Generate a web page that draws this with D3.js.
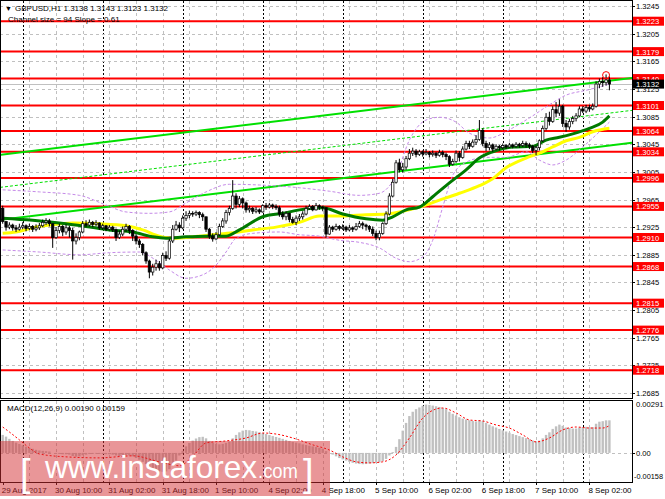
<!DOCTYPE html>
<html>
<head>
<meta charset="utf-8">
<script src="https://cdn.jsdelivr.net/npm/d3@7"></script>
<style>
  body { margin: 0; background: #fff; }
  svg { display: block; font-family: "Liberation Sans", Arial, sans-serif; }
</style>
</head>
<body>
<script>
// GBPUSD H1, 29 Aug 18:00 .. 8 Sep 08:00 (2017), one entry per hourly bar

var firstOpen = 1.2952;

var closes = [
  1.2933,1.2925,1.2928,1.2924,1.2922,1.2925,1.2927,1.2923,1.2926,1.2922,
  1.2924,1.2927,1.2932,1.2934,1.2930,1.2910,1.2920,1.2926,1.2918,1.2924,
  1.2920,1.2905,1.2910,1.2918,1.2930,1.2928,1.2932,1.2929,1.2931,1.2924,
  1.2927,1.2922,1.2925,1.2921,1.2910,1.2915,1.2922,1.2926,1.2920,1.2912,
  1.2905,1.2900,1.2888,1.2876,1.2860,1.2867,1.2872,1.2866,1.2884,1.2880,
  1.2905,1.2922,1.2928,1.2924,1.2938,1.2942,1.2945,1.2944,1.2946,1.2943,
  1.2940,1.2922,1.2912,1.2908,1.2914,1.2926,1.2934,1.2946,1.2952,1.2970,
  1.2958,1.2966,1.2960,1.2950,1.2952,1.2948,1.2950,1.2947,1.2956,1.2954,
  1.2957,1.2955,1.2953,1.2944,1.2940,1.2945,1.2936,1.2932,1.2938,1.2940,
  1.2944,1.2952,1.2955,1.2950,1.2956,1.2954,1.2953,1.2915,1.2925,1.2922,
  1.2926,1.2923,1.2925,1.2921,1.2924,1.2922,1.2926,1.2930,1.2928,1.2926,
  1.2922,1.2916,1.2910,1.2916,1.2930,1.2944,1.2970,1.2990,1.3018,1.3008,
  1.3012,1.3024,1.3032,1.3035,1.3030,1.3034,1.3031,1.3033,1.3030,1.3032,
  1.3029,1.3033,1.3030,1.3027,1.3016,1.3020,1.3032,1.3026,1.3038,1.3046,
  1.3042,1.3048,1.3052,1.3065,1.3046,1.3040,1.3044,1.3038,1.3042,1.3040,
  1.3043,1.3041,1.3044,1.3042,1.3045,1.3043,1.3046,1.3044,1.3042,1.3036,
  1.3040,1.3050,1.3068,1.3084,1.3078,1.3095,1.3090,1.3100,1.3075,1.3070,
  1.3078,1.3082,1.3086,1.3096,1.3093,1.3098,1.3096,1.3100,1.3132,1.3136,
  1.3134,1.3138,1.3132
];

var highs = [
  1.2956,1.2934,1.2932,1.2930,1.2928,1.2930,1.2932,1.2929,1.2930,1.2928,
  1.2929,1.2931,1.2936,1.2938,1.2937,1.2930,1.2925,1.2930,1.2928,1.2929,
  1.2927,1.2924,1.2916,1.2920,1.2934,1.2935,1.2936,1.2934,1.2935,1.2932,
  1.2930,1.2928,1.2928,1.2927,1.2923,1.2920,1.2926,1.2930,1.2928,1.2922,
  1.2915,1.2908,1.2902,1.2890,1.2878,1.2872,1.2878,1.2876,1.2888,1.2890,
  1.2908,1.2928,1.2934,1.2932,1.2942,1.2948,1.2949,1.2948,1.2949,1.2948,
  1.2946,1.2940,1.2924,1.2916,1.2918,1.2930,1.2938,1.2950,1.2956,1.2993,
  1.2974,1.2970,1.2968,1.2962,1.2956,1.2954,1.2954,1.2952,1.2958,1.2960,
  1.2960,1.2959,1.2958,1.2956,1.2948,1.2948,1.2946,1.2940,1.2942,1.2944,
  1.2948,1.2956,1.2958,1.2957,1.2960,1.2958,1.2956,1.2954,1.2928,1.2927,
  1.2930,1.2928,1.2929,1.2927,1.2928,1.2926,1.2931,1.2934,1.2933,1.2930,
  1.2928,1.2926,1.2920,1.2920,1.2932,1.2948,1.2974,1.2995,1.3022,1.3024,
  1.3018,1.3028,1.3038,1.3040,1.3038,1.3037,1.3036,1.3038,1.3035,1.3036,
  1.3034,1.3037,1.3036,1.3033,1.3029,1.3024,1.3036,1.3035,1.3042,1.3050,
  1.3050,1.3052,1.3058,1.3080,1.3068,1.3050,1.3048,1.3046,1.3045,1.3044,
  1.3046,1.3045,1.3047,1.3046,1.3048,1.3047,1.3050,1.3049,1.3047,1.3044,
  1.3043,1.3052,1.3072,1.3090,1.3092,1.3100,1.3106,1.3110,1.3102,1.3080,
  1.3082,1.3086,1.3090,1.3100,1.3100,1.3102,1.3102,1.3104,1.3136,1.3140,
  1.3142,1.3146,1.3143
];

var lows = [
  1.2930,1.2920,1.2922,1.2920,1.2918,1.2920,1.2922,1.2919,1.2921,1.2918,
  1.2919,1.2921,1.2925,1.2928,1.2926,1.2895,1.2908,1.2916,1.2912,1.2914,
  1.2910,1.2878,1.2900,1.2906,1.2916,1.2925,1.2926,1.2925,1.2926,1.2921,
  1.2921,1.2919,1.2920,1.2918,1.2905,1.2908,1.2912,1.2918,1.2915,1.2905,
  1.2900,1.2895,1.2884,1.2872,1.2851,1.2855,1.2862,1.2862,1.2864,1.2876,
  1.2878,1.2902,1.2920,1.2918,1.2922,1.2934,1.2938,1.2940,1.2941,1.2938,
  1.2934,1.2918,1.2908,1.2904,1.2906,1.2912,1.2924,1.2930,1.2942,1.2950,
  1.2952,1.2954,1.2952,1.2946,1.2946,1.2944,1.2945,1.2944,1.2946,1.2950,
  1.2952,1.2951,1.2950,1.2940,1.2936,1.2935,1.2932,1.2930,1.2928,1.2934,
  1.2936,1.2942,1.2950,1.2948,1.2949,1.2950,1.2948,1.2910,1.2914,1.2918,
  1.2920,1.2920,1.2921,1.2918,1.2919,1.2918,1.2920,1.2924,1.2922,1.2920,
  1.2918,1.2912,1.2906,1.2906,1.2914,1.2928,1.2942,1.2968,1.2988,1.3004,
  1.3004,1.3008,1.3022,1.3028,1.3026,1.3028,1.3027,1.3029,1.3026,1.3027,
  1.3025,1.3027,1.3026,1.3022,1.3012,1.3014,1.3018,1.3020,1.3024,1.3036,
  1.3038,1.3040,1.3044,1.3050,1.3042,1.3035,1.3036,1.3034,1.3036,1.3036,
  1.3038,1.3038,1.3040,1.3039,1.3040,1.3040,1.3041,1.3040,1.3038,1.3032,
  1.3029,1.3036,1.3048,1.3065,1.3072,1.3076,1.3084,1.3086,1.3070,1.3063,
  1.3066,1.3074,1.3078,1.3084,1.3090,1.3090,1.3092,1.3094,1.3098,1.3126,
  1.3128,1.3130,1.3123
];

// MACD(12,26,9) main histogram, in units of 0.00001
var macdHist = [
  105,95,82,70,60,52,44,36,30,24,
  18,14,12,10,8,0,-4,-6,-8,-8,
  -10,-18,-22,-20,-14,-10,-6,-5,-4,-6,
  -6,-8,-8,-10,-15,-18,-16,-14,-15,-20,
  -30,-40,-52,-65,-80,-92,-102,-108,-110,-108,
  -95,-72,-45,-15,12,38,58,72,84,92,
  94,85,70,60,53,50,52,58,66,85,
  105,120,130,134,132,128,125,120,115,110,
  104,98,93,88,82,76,70,64,60,56,
  50,46,42,38,34,30,25,10,0,-10,
  -20,-30,-38,-45,-52,-58,-62,-65,-66,-65,
  -62,-60,-58,-55,-48,-35,-15,5,35,80,
  130,175,215,240,255,265,275,282,280,276,
  272,268,262,255,240,228,218,208,200,195,
  190,186,184,190,185,175,165,155,148,140,
  132,125,118,110,104,98,92,86,80,72,
  68,72,85,105,120,140,155,165,158,148,
  145,142,142,148,150,152,150,150,170,182,
  185,190,190
];

// MACD signal line read at [bar, value in 0.00001]
var macdSignal = [
  [0,151],[2,122],[5,76],[8,29],[11,-6],[19,-23],[29,-29],[39,-17],[47,-52],
  [53,-75],[57,-20],[61,58],[67,70],[73,87],[78,116],[82,110],[87,87],[93,47],
  [98,17],[102,-23],[106,-52],[110,-58],[114,-52],[118,-12],[122,87],[126,203],
  [130,256],[132,262],[136,233],[140,192],[144,186],[148,163],[152,145],[156,105],
  [160,64],[164,87],[168,134],[172,151],[176,145],[180,145],[182,159]
];

// moving averages read at [bar, price]
var maGreen = [
  [0,1.2938],[9,1.2935],[19,1.2930],[25,1.2926],[32,1.2921],[39,1.2918],[45,1.2911],
  [49,1.2909],[55,1.2911],[61,1.2912],[67,1.2912],[71,1.2921],[78,1.2940],[84,1.2945],
  [89,1.2950],[96,1.2953],[102,1.2944],[109,1.2937],[114,1.2935],[117,1.2940],
  [121,1.2950],[125,1.2954],[129,1.2969],[134,1.2989],[139,1.3008],[143,1.3025],
  [147,1.3034],[153,1.3041],[159,1.3042],[163,1.3051],[167,1.3055],[171,1.3060],
  [176,1.3068],[180,1.3077],[182,1.3086]
];
var maYellow = [
  [0,1.2916],[4,1.2918],[9,1.2924],[14,1.2928],[21,1.2931],[29,1.2930],[37,1.2927],
  [42,1.2921],[47,1.2912],[51,1.2909],[57,1.2911],[63,1.2914],[69,1.2917],[75,1.2921],
  [82,1.2925],[89,1.2932],[95,1.2941],[102,1.2941],[109,1.2943],[115,1.2944],
  [119,1.2947],[125,1.2954],[131,1.2964],[137,1.2974],[143,1.2985],[147,1.2995],
  [151,1.3011],[157,1.3025],[161,1.3032],[165,1.3041],[169,1.3050],[173,1.3055],
  [177,1.3063],[182,1.3068]
];

// envelope (violet dotted) read at [bar, price]
var bandUpper = [
  [0,1.2979],[11,1.2976],[23,1.2971],[31,1.2957],[37,1.2947],[44,1.2945],[50,1.2947],
  [55,1.2960],[61,1.2976],[68,1.2987],[77,1.2986],[89,1.2982],[98,1.2977],[107,1.2971],
  [113,1.2974],[118,1.3000],[122,1.3051],[127,1.3080],[131,1.3084],[136,1.3077],
  [140,1.3061],[146,1.3054],[152,1.3066],[158,1.3083],[164,1.3102],[169,1.3116],
  [175,1.3123],[179,1.3128],[182,1.3132]
];
var bandLower = [
  [0,1.2892],[11,1.2889],[23,1.2885],[32,1.2888],[41,1.2889],[46,1.2877],[50,1.2863],
  [55,1.2851],[60,1.2856],[64,1.2870],[67,1.2889],[70,1.2909],[75,1.2916],[83,1.2918],
  [89,1.2914],[95,1.2912],[101,1.2906],[107,1.2903],[113,1.2895],[118,1.2880],
  [122,1.2875],[126,1.2882],[129,1.2906],[132,1.2954],[135,1.3000],[139,1.3019],
  [145,1.3026],[151,1.3026],[157,1.3034],[161,1.3022],[165,1.3015],[169,1.3022],
  [174,1.3041],[179,1.3063],[182,1.3077]
];

// regression channel: price at bar 0 and bar 182
var channelBars = [0, 182];
var channelUpper = [1.3030, 1.3137];
var channelMiddle = [1.2983, 1.3090];
var channelLower = [1.2936, 1.3043];

var levels = [1.3223, 1.3179, 1.3140, 1.3101, 1.3064, 1.3034, 1.2996, 1.2955,
              1.2910, 1.2868, 1.2815, 1.2776, 1.2718];

var priceTicks = [1.3245, 1.3205, 1.3165, 1.3125, 1.3085, 1.3045, 1.3005, 1.2965,
                  1.2925, 1.2885, 1.2845, 1.2805, 1.2765, 1.2725, 1.2685];
var macdTicks = [0.00291, 0.00, -0.00158];
var macdTickText = ["0.00291", "0.00", "-0.00158"];

var timeLabels = ["29 Aug 2017", "30 Aug 10:00", "31 Aug 02:00", "31 Aug 18:00",
                  "1 Sep 10:00", "4 Sep 02:00", "4 Sep 18:00", "5 Sep 10:00",
                  "6 Sep 02:00", "6 Sep 18:00", "7 Sep 10:00", "8 Sep 02:00"];
var timeLabelBars = [0, 16, 32, 48, 64, 80, 96, 112, 128, 144, 160, 176];
var daySepBars = [6, 30, 54, 78, 102, 126, 150, 174];
var gridBars = [8, 16, 24, 32, 40, 48, 56, 64, 72, 80, 88, 96, 104, 112, 120, 128,
                136, 144, 152, 160, 168, 176];

var alertBar = 181, alertPrice = 1.3145;

var W = 665, H = 499;
var plotR = 632;
var mainTop = 1, mainBot = 398, macdTop = 401, macdBot = 482;

var x = d3.scaleLinear().domain([0, 182]).range([2.7, 609.4]);
var y = d3.scaleLinear().domain([1.2685, 1.3245]).range([393, 6]);
var ym = d3.scaleLinear().domain([-0.00158, 0.00291]).range([480, 403]);

var svg = d3.select("body").append("svg")
    .attr("width", W)
    .attr("height", H);

var defs = svg.append("defs");
defs.append("clipPath").attr("id", "clipMain").append("rect")
    .attr("x", 1).attr("y", mainTop).attr("width", plotR - 1).attr("height", mainBot - mainTop);
defs.append("clipPath").attr("id", "clipMacd").append("rect")
    .attr("x", 1).attr("y", macdTop).attr("width", plotR - 1).attr("height", macdBot - macdTop);

var main = svg.append("g").attr("clip-path", "url(#clipMain)");
var macd = svg.append("g").attr("clip-path", "url(#clipMacd)");

// vertical grid in both panels
[[main, mainTop, mainBot], [macd, macdTop, macdBot]].forEach(function (p) {
    p[0].selectAll(".vgrid").data(gridBars).enter().append("line")
        .attr("x1", function (d) { return Math.round(x(d)) + 0.5; })
        .attr("x2", function (d) { return Math.round(x(d)) + 0.5; })
        .attr("y1", p[1]).attr("y2", p[2])
        .attr("stroke", "#c0c0c0").attr("stroke-dasharray", "3,3");
    p[0].selectAll(".dsep").data(daySepBars).enter().append("line")
        .attr("x1", function (d) { return Math.round(x(d)) + 0.5; })
        .attr("x2", function (d) { return Math.round(x(d)) + 0.5; })
        .attr("y1", p[1]).attr("y2", p[2])
        .attr("stroke", "#000").attr("stroke-dasharray", "2,2");
});

// horizontal grid
main.selectAll(".hgrid").data(priceTicks).enter().append("line")
    .attr("x1", 0).attr("x2", plotR)
    .attr("y1", function (d) { return Math.round(y(d)) + 0.5; })
    .attr("y2", function (d) { return Math.round(y(d)) + 0.5; })
    .attr("stroke", "#c0c0c0").attr("stroke-dasharray", "3,3");
macd.append("line")
    .attr("x1", 0).attr("x2", plotR)
    .attr("y1", Math.round(ym(0)) + 0.5).attr("y2", Math.round(ym(0)) + 0.5)
    .attr("stroke", "#c0c0c0").attr("stroke-dasharray", "3,3");

// support / resistance levels
main.selectAll(".level").data(levels).enter().append("line")
    .attr("x1", 0).attr("x2", plotR)
    .attr("y1", function (d) { return y(d); })
    .attr("y2", function (d) { return y(d); })
    .attr("stroke", "#ff0000").attr("stroke-width", 2);

// bid line
var lastClose = closes[closes.length - 1];
main.append("line")
    .attr("x1", 0).attr("x2", plotR)
    .attr("y1", Math.round(y(lastClose)) + 0.5).attr("y2", Math.round(y(lastClose)) + 0.5)
    .attr("stroke", "#c0c0c0");

// channel lines, extended across the whole panel
function chanLine(vals, dash, width) {
    var k = (vals[1] - vals[0]) / (channelBars[1] - channelBars[0]);
    var b0 = x.invert(0), b1 = x.invert(plotR);
    main.append("line")
        .attr("x1", 0).attr("x2", plotR)
        .attr("y1", y(vals[0] + k * (b0 - channelBars[0])))
        .attr("y2", y(vals[0] + k * (b1 - channelBars[0])))
        .attr("stroke", "#00e000")
        .attr("stroke-width", width)
        .attr("stroke-dasharray", dash);
}
chanLine(channelUpper, null, 2);
chanLine(channelMiddle, "3,2", 1);
chanLine(channelLower, null, 2);

var curve = d3.line()
    .x(function (d) { return x(d[0]); })
    .y(function (d) { return y(d[1]); })
    .curve(d3.curveMonotoneX);

[bandUpper, bandLower].forEach(function (b) {
    main.append("path").attr("d", curve(b))
        .attr("fill", "none").attr("stroke", "#c58ae8")
        .attr("stroke-width", 1).attr("stroke-dasharray", "3,2");
});

main.append("path").attr("d", curve(maYellow))
    .attr("fill", "none").attr("stroke", "#ffff00").attr("stroke-width", 3);
main.append("path").attr("d", curve(maGreen))
    .attr("fill", "none").attr("stroke", "#007a00").attr("stroke-width", 3);

// candles
var bars = closes.map(function (c, i) {
    var o = i === 0 ? firstOpen : closes[i - 1];
    return {
        i: i, o: o, c: c,
        h: Math.max(highs[i], o, c),
        l: Math.min(lows[i], o, c)
    };
});

var candle = main.selectAll(".candle").data(bars).enter().append("g");
candle.append("line")
    .attr("x1", function (d) { return x(d.i); })
    .attr("x2", function (d) { return x(d.i); })
    .attr("y1", function (d) { return y(d.h); })
    .attr("y2", function (d) { return y(d.l); })
    .attr("stroke", "#000").attr("stroke-width", 1);
candle.append("rect")
    .attr("x", function (d) { return x(d.i) - 1.2; })
    .attr("width", 2.4)
    .attr("y", function (d) { return y(Math.max(d.o, d.c)); })
    .attr("height", function (d) { return Math.max(0.8, Math.abs(y(d.o) - y(d.c))); })
    .attr("fill", function (d) { return d.c >= d.o ? "#fff" : "#000"; })
    .attr("stroke", "#000").attr("stroke-width", 0.7);

main.append("circle")
    .attr("cx", x(alertBar)).attr("cy", y(alertPrice)).attr("r", 3.5)
    .attr("fill", "none").attr("stroke", "#ff0000");

// MACD
macd.selectAll(".hist").data(macdHist).enter().append("rect")
    .attr("x", function (d, i) { return x(i) - 1.2; })
    .attr("width", 2.4)
    .attr("y", function (d) { return Math.min(ym(d / 1e5), ym(0)); })
    .attr("height", function (d) { return Math.abs(ym(d / 1e5) - ym(0)); })
    .attr("fill", "#c0c0c0");

macd.append("path")
    .attr("d", d3.line()
        .x(function (d) { return x(d[0]); })
        .y(function (d) { return ym(d[1] / 1e5); })
        .curve(d3.curveMonotoneX)(macdSignal))
    .attr("fill", "none").attr("stroke", "#ff0000")
    .attr("stroke-width", 1).attr("stroke-dasharray", "2,2");

// panel frames
svg.append("rect").attr("x", 0.5).attr("y", 0.5)
    .attr("width", plotR).attr("height", mainBot)
    .attr("fill", "none").attr("stroke", "#000");
svg.append("rect").attr("x", 0.5).attr("y", macdTop - 0.5)
    .attr("width", plotR).attr("height", macdBot - macdTop + 1)
    .attr("fill", "none").attr("stroke", "#000");

// right price axis
var axisX = plotR + 4;
svg.selectAll(".ptick").data(priceTicks).enter().append("line")
    .attr("x1", plotR).attr("x2", plotR + 3)
    .attr("y1", function (d) { return Math.round(y(d)) + 0.5; })
    .attr("y2", function (d) { return Math.round(y(d)) + 0.5; })
    .attr("stroke", "#000");
svg.selectAll(".plabel").data(priceTicks).enter().append("text")
    .attr("x", axisX).attr("y", function (d) { return y(d) + 3; })
    .attr("font-size", 7.6).attr("fill", "#000")
    .text(function (d) { return d.toFixed(4); });

var lvl = svg.selectAll(".lvlbox").data(levels).enter().append("g");
lvl.append("rect")
    .attr("x", plotR + 1).attr("width", W - plotR - 2)
    .attr("y", function (d) { return y(d) - 4.5; }).attr("height", 9)
    .attr("fill", "#ff0000");
lvl.append("text")
    .attr("x", axisX).attr("y", function (d) { return y(d) + 3; })
    .attr("font-size", 7.6).attr("fill", "#fff")
    .text(function (d) { return d.toFixed(4); });

svg.append("rect")
    .attr("x", plotR + 1).attr("width", W - plotR - 2)
    .attr("y", y(lastClose) - 4.5).attr("height", 9)
    .attr("fill", "#000");
svg.append("text")
    .attr("x", axisX).attr("y", y(lastClose) + 3)
    .attr("font-size", 7.6).attr("fill", "#fff")
    .text(lastClose.toFixed(4));

// MACD axis
svg.selectAll(".mlabel").data(macdTicks).enter().append("text")
    .attr("x", function (d, i) { return i === 2 ? plotR + 2 : axisX; })
    .attr("y", function (d, i) { return [407, 456, 479][i]; })
    .attr("font-size", 7.6).attr("fill", "#000")
    .attr("textLength", function (d, i) { return i === 2 ? 29 : null; })
    .attr("lengthAdjust", "spacingAndGlyphs")
    .text(function (d, i) { return macdTickText[i]; });
svg.append("line")
    .attr("x1", plotR).attr("x2", plotR + 3)
    .attr("y1", Math.round(ym(0)) + 0.5).attr("y2", Math.round(ym(0)) + 0.5)
    .attr("stroke", "#000");

// time axis
svg.selectAll(".ttick").data(timeLabelBars).enter().append("line")
    .attr("x1", function (d) { return Math.round(x(d)) + 0.5; })
    .attr("x2", function (d) { return Math.round(x(d)) + 0.5; })
    .attr("y1", macdBot).attr("y2", macdBot + 3)
    .attr("stroke", "#000");
svg.selectAll(".tlabel").data(timeLabels).enter().append("text")
    .attr("x", function (d, i) { return x(timeLabelBars[i]) - 1; })
    .attr("y", 493)
    .attr("font-size", 8).attr("fill", "#000")
    .text(function (d) { return d; });

// titles
svg.append("text").attr("x", 5).attr("y", 11).attr("font-size", 7).text("\u25BC");
svg.append("text").attr("x", 15).attr("y", 11).attr("font-size", 8)
    .text("GBPUSD,H1  1.3138 1.3143 1.3123 1.3132");
svg.append("text").attr("x", 8).attr("y", 22).attr("font-size", 8)
    .text("Channel size = 94 Slope = 0.61");
svg.append("text").attr("x", 7).attr("y", 411).attr("font-size", 8)
    .text("MACD(12,26,9) 0.00190 0.00159");

// watermark
var wm = svg.append("g");
wm.append("rect").attr("x", 0).attr("y", 441).attr("width", 330).attr("height", 55)
    .attr("fill", "rgb(211,45,50)").attr("opacity", 0.5);
wm.append("text").attr("x", 20).attr("y", 486).attr("font-size", 38)
    .attr("fill", "#fff").text("[");
wm.append("text").attr("x", 45).attr("y", 478).attr("font-size", 32)
    .attr("textLength", 212).attr("lengthAdjust", "spacingAndGlyphs")
    .attr("fill", "#fff").text("www.instaforex");
wm.append("text").attr("x", 258).attr("y", 478).attr("font-size", 21)
    .attr("textLength", 40).attr("lengthAdjust", "spacingAndGlyphs")
    .attr("fill", "#fff").text(".com");
wm.append("text").attr("x", 303).attr("y", 486).attr("font-size", 38)
    .attr("fill", "#fff").text("]");
</script>
</body>
</html>
